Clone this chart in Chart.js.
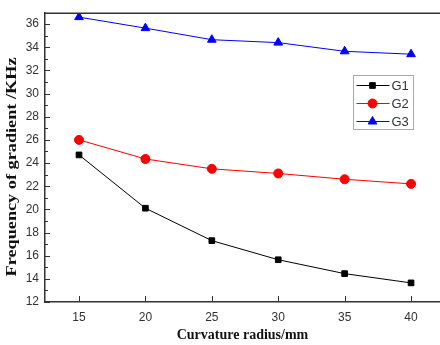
<!DOCTYPE html>
<html>
<head>
<meta charset="utf-8">
<script src="https://cdn.jsdelivr.net/npm/chart.js@4/dist/chart.umd.min.js"></script>
<style>
  html, body { margin: 0; padding: 0; background: #fff; }
  #wrap { width: 440px; height: 345px; }
</style>
</head>
<body>
<div id="wrap"><canvas id="myChart"></canvas></div>
<script>
const radius = [15, 20, 25, 30, 35, 40];
const g1 = [24.7, 20.1, 17.3, 15.65, 14.45, 13.65];
const g2 = [26.0, 24.35, 23.5, 23.1, 22.6, 22.2];
const g3 = [36.6, 35.65, 34.65, 34.4, 33.65, 33.4];
const seriesNames = ['G1', 'G2', 'G3'];
const yTitle = 'Frequency of gradient /KHz';

const toPoints = (ys) => radius.map((x, i) => ({ x: x, y: ys[i] }));

// inward ticks, minor ticks on y, frame line on top, y title, legend inside the plot
const decorations = {
  id: 'decorations',
  afterDraw(chart) {
    const ctx = chart.ctx;
    const area = chart.chartArea;
    const xs = chart.scales.x;
    const ys = chart.scales.y;
    ctx.save();
    ctx.strokeStyle = '#333';
    ctx.lineWidth = 1;
    ctx.beginPath();
    xs.ticks.forEach(t => {
      const px = Math.round(xs.getPixelForValue(t.value)) + 0.5;
      ctx.moveTo(px, area.bottom);
      ctx.lineTo(px, area.bottom - 6);
    });
    for (let v = Math.ceil(ys.min); v <= ys.max; v++) {
      const py = Math.round(ys.getPixelForValue(v)) + 0.5;
      const len = v % 2 === 0 ? 5 : 3;
      ctx.moveTo(area.left, py);
      ctx.lineTo(area.left + len, py);
    }
    ctx.stroke();
    ctx.lineWidth = 1.5;
    ctx.beginPath();
    ctx.moveTo(area.left, area.top);
    ctx.lineTo(area.right, area.top);
    ctx.stroke();

    // y title, a bit stretched like the original
    ctx.save();
    ctx.font = 'bold 15px "Liberation Serif", "Times New Roman", serif';
    ctx.fillStyle = '#111';
    ctx.textAlign = 'center';
    ctx.textBaseline = 'middle';
    ctx.translate(12, 167);
    ctx.rotate(-Math.PI / 2);
    const w = ctx.measureText(yTitle).width;
    ctx.scale(219 / w, 1);
    ctx.fillText(yTitle, 0, 0);
    ctx.restore();

    // legend
    const bx = 353.5, by = 75.5, bw = 60, bh = 54;
    ctx.fillStyle = '#fff';
    ctx.fillRect(bx, by, bw, bh);
    ctx.strokeStyle = '#aaa';
    ctx.lineWidth = 1;
    ctx.strokeRect(bx, by, bw, bh);
    ctx.font = '13px "Liberation Sans", Arial, sans-serif';
    ctx.textBaseline = 'middle';
    chart.data.datasets.forEach((ds, i) => {
      const yy = by + 10 + i * 18;
      ctx.strokeStyle = ds.borderColor;
      ctx.lineWidth = 1;
      ctx.beginPath();
      ctx.moveTo(bx + 3, yy);
      ctx.lineTo(bx + 36, yy);
      ctx.stroke();
      ctx.fillStyle = ds.pointBackgroundColor;
      ctx.strokeStyle = ds.borderColor;
      Chart.helpers.drawPoint(ctx, {
        pointStyle: ds.pointStyle, radius: ds.pointRadius, rotation: 0,
        borderWidth: 1
      }, bx + 19, yy);
      ctx.fillStyle = '#333';
      ctx.fillText(ds.label, bx + 38, yy + 1);
    });
    ctx.restore();
  }
};

new Chart(document.getElementById('myChart'), {
  type: 'line',
  data: {
    datasets: [
      { label: seriesNames[0], data: toPoints(g1), borderColor: '#000', backgroundColor: '#000',
        pointBackgroundColor: '#000', pointStyle: 'rect', pointRadius: 4, borderWidth: 1 },
      { label: seriesNames[1], data: toPoints(g2), borderColor: '#ff0000', backgroundColor: '#ff0000',
        pointBackgroundColor: '#ff0000', pointStyle: 'circle', pointRadius: 4.5, borderWidth: 1 },
      { label: seriesNames[2], data: toPoints(g3), borderColor: '#0000ff', backgroundColor: '#0000ff',
        pointBackgroundColor: '#0000ff', pointStyle: 'triangle', pointRadius: 5, borderWidth: 1 }
    ]
  },
  options: {
    responsive: true,
    maintainAspectRatio: false,
    animation: false,
    layout: { padding: { top: 10, right: 0, left: 0, bottom: 0 }, autoPadding: false },
    plugins: { legend: { display: false }, tooltip: { enabled: false } },
    scales: {
      x: {
        type: 'linear', min: 12.44, max: 42.18,
        afterFit: (s) => { s.height = 43; },
        grid: { display: true, drawOnChartArea: false, drawTicks: false, tickLength: 0 },
        border: { display: true, color: '#333', width: 1.5 },
        ticks: { stepSize: 5, includeBounds: false, padding: 8, color: '#333',
                 font: { family: '"Liberation Sans", Arial, sans-serif', size: 12 } },
        title: { display: true, text: 'Curvature radius/mm', color: '#111', padding: { top: 1, bottom: 1 },
                 font: { family: '"Liberation Serif", "Times New Roman", serif', size: 14, weight: 'bold' } }
      },
      y: {
        type: 'linear', min: 12, max: 36.94,
        afterFit: (s) => { s.width = 45; },
        grid: { display: true, drawOnChartArea: false, drawTicks: false, tickLength: 0 },
        border: { display: true, color: '#333', width: 1.5 },
        ticks: { stepSize: 2, includeBounds: false, padding: 6, color: '#333',
                 font: { family: '"Liberation Sans", Arial, sans-serif', size: 12 } },
        title: { display: false }
      }
    }
  },
  plugins: [decorations]
});
</script>
</body>
</html>
